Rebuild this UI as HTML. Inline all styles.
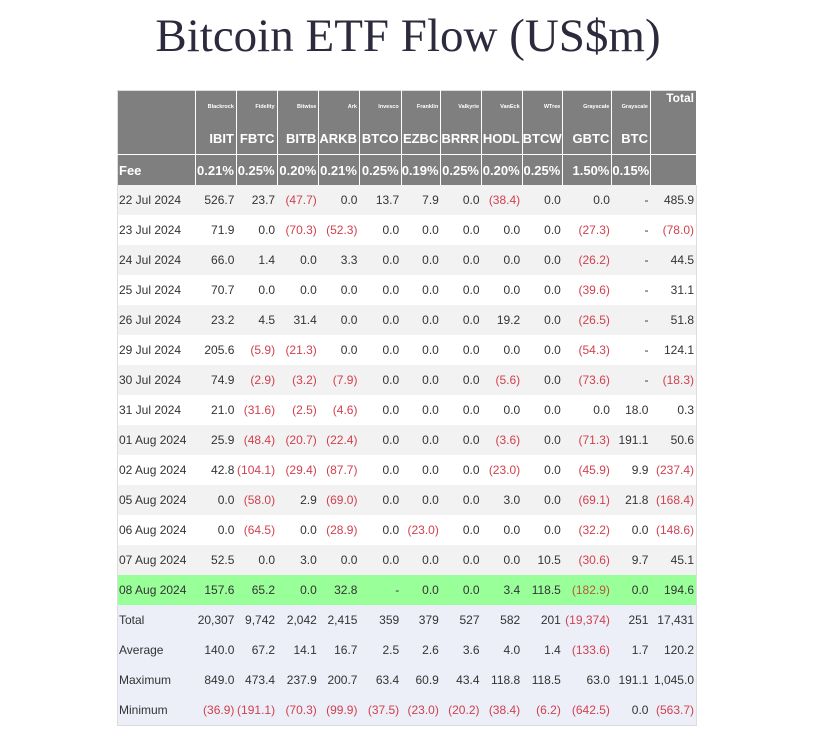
<!DOCTYPE html>
<html><head><meta charset="utf-8">
<style>
html,body{margin:0;padding:0;background:#fff;width:816px;height:730px;overflow:hidden}
#title{position:absolute;left:0;top:6px;width:816px;text-align:center;font-family:"Liberation Serif",serif;font-size:47px;color:#2b2b3d;line-height:60px}
#tbl{position:absolute;left:117px;top:90px;width:580px;border-collapse:collapse;table-layout:fixed;font-family:"Liberation Sans",sans-serif;font-size:12px;color:#333;border:1px solid #ddd}
#tbl td{padding:0 2px 0 0;text-align:right;white-space:nowrap;overflow:hidden;height:30px}
#tbl td:first-child{text-align:left;padding-left:1px}
.h td{background:#7f7f7f;color:#fff;font-weight:bold;border-right:1px solid #fff}
.h1 td{height:31px !important;font-size:5.5px;vertical-align:middle}
.h1 td:last-child{font-size:12px;vertical-align:top;padding-top:8px}
.h2 td{height:32px !important;font-size:13px}
.h3 td{height:30px !important;font-size:13px;border-top:1px solid #fff}
.odd td{background:#f2f2f2}
.even td{background:#fff}
.hl td{background:#99ff99}
.sum td{background:#eceff8}
.neg{color:#d0414f}
.hl .neg{color:#b5573a}
</style></head><body>
<div id="title">Bitcoin ETF Flow (US$m)</div>
<table id="tbl"><colgroup id="cg"></colgroup><tbody id="tb"></tbody></table>
<script>
const issuers=["","Blackrock","Fidelity","Bitwise","Ark","Invesco","Franklin","Valkyrie","VanEck","WTree","Grayscale","Grayscale","Total"];
const tickers=["","IBIT","FBTC","BITB","ARKB","BTCO","EZBC","BRRR","HODL","BTCW","GBTC","BTC",""];
const fees=["Fee","0.21%","0.25%","0.20%","0.21%","0.25%","0.19%","0.25%","0.20%","0.25%","1.50%","0.15%",""];
const dates=["22 Jul 2024","23 Jul 2024","24 Jul 2024","25 Jul 2024","26 Jul 2024","29 Jul 2024","30 Jul 2024","31 Jul 2024","01 Aug 2024","02 Aug 2024","05 Aug 2024","06 Aug 2024","07 Aug 2024","08 Aug 2024"];
const flows=[
["526.7","23.7","(47.7)","0.0","13.7","7.9","0.0","(38.4)","0.0","0.0","-","485.9"],
["71.9","0.0","(70.3)","(52.3)","0.0","0.0","0.0","0.0","0.0","(27.3)","-","(78.0)"],
["66.0","1.4","0.0","3.3","0.0","0.0","0.0","0.0","0.0","(26.2)","-","44.5"],
["70.7","0.0","0.0","0.0","0.0","0.0","0.0","0.0","0.0","(39.6)","-","31.1"],
["23.2","4.5","31.4","0.0","0.0","0.0","0.0","19.2","0.0","(26.5)","-","51.8"],
["205.6","(5.9)","(21.3)","0.0","0.0","0.0","0.0","0.0","0.0","(54.3)","-","124.1"],
["74.9","(2.9)","(3.2)","(7.9)","0.0","0.0","0.0","(5.6)","0.0","(73.6)","-","(18.3)"],
["21.0","(31.6)","(2.5)","(4.6)","0.0","0.0","0.0","0.0","0.0","0.0","18.0","0.3"],
["25.9","(48.4)","(20.7)","(22.4)","0.0","0.0","0.0","(3.6)","0.0","(71.3)","191.1","50.6"],
["42.8","(104.1)","(29.4)","(87.7)","0.0","0.0","0.0","(23.0)","0.0","(45.9)","9.9","(237.4)"],
["0.0","(58.0)","2.9","(69.0)","0.0","0.0","0.0","3.0","0.0","(69.1)","21.8","(168.4)"],
["0.0","(64.5)","0.0","(28.9)","0.0","(23.0)","0.0","0.0","0.0","(32.2)","0.0","(148.6)"],
["52.5","0.0","3.0","0.0","0.0","0.0","0.0","0.0","10.5","(30.6)","9.7","45.1"],
["157.6","65.2","0.0","32.8","-","0.0","0.0","3.4","118.5","(182.9)","0.0","194.6"]];
const sumLabels=["Total","Average","Maximum","Minimum"];
const sums=[
["20,307","9,742","2,042","2,415","359","379","527","582","201","(19,374)","251","17,431"],
["140.0","67.2","14.1","16.7","2.5","2.6","3.6","4.0","1.4","(133.6)","1.7","120.2"],
["849.0","473.4","237.9","200.7","63.4","60.9","43.4","118.8","118.5","63.0","191.1","1,045.0"],
["(36.9)","(191.1)","(70.3)","(99.9)","(37.5)","(23.0)","(20.2)","(38.4)","(6.2)","(642.5)","0.0","(563.7)"]];
const widths=[75,39,39,40,39,40,38,39,39,39,47,37,44];
const cg=document.getElementById('cg');
widths.forEach(w=>{const c=document.createElement('col');c.style.width=w+'px';cg.appendChild(c);});
const tb=document.getElementById('tb');
function row(cls,cells,name){
  const tr=document.createElement('tr');tr.className=cls;
  
  
  cells.forEach((v,i)=>{const td=document.createElement('td');td.textContent=v;
    if(v.startsWith('('))td.className='neg';
    
    
    tr.appendChild(td);});
  tb.appendChild(tr);
}
row('h h1',issuers,'issuer-header-row');
row('h h2',tickers,'ticker-header-row');
row('h h3',fees,'fee-row');
dates.forEach((d,i)=>row(i===13?'hl':(i%2===0?'odd':'even'),[d].concat(flows[i]),'flow-row'));
sumLabels.forEach((l,i)=>row('sum',[l].concat(sums[i]),'summary-row'));
</script>
</body></html>
